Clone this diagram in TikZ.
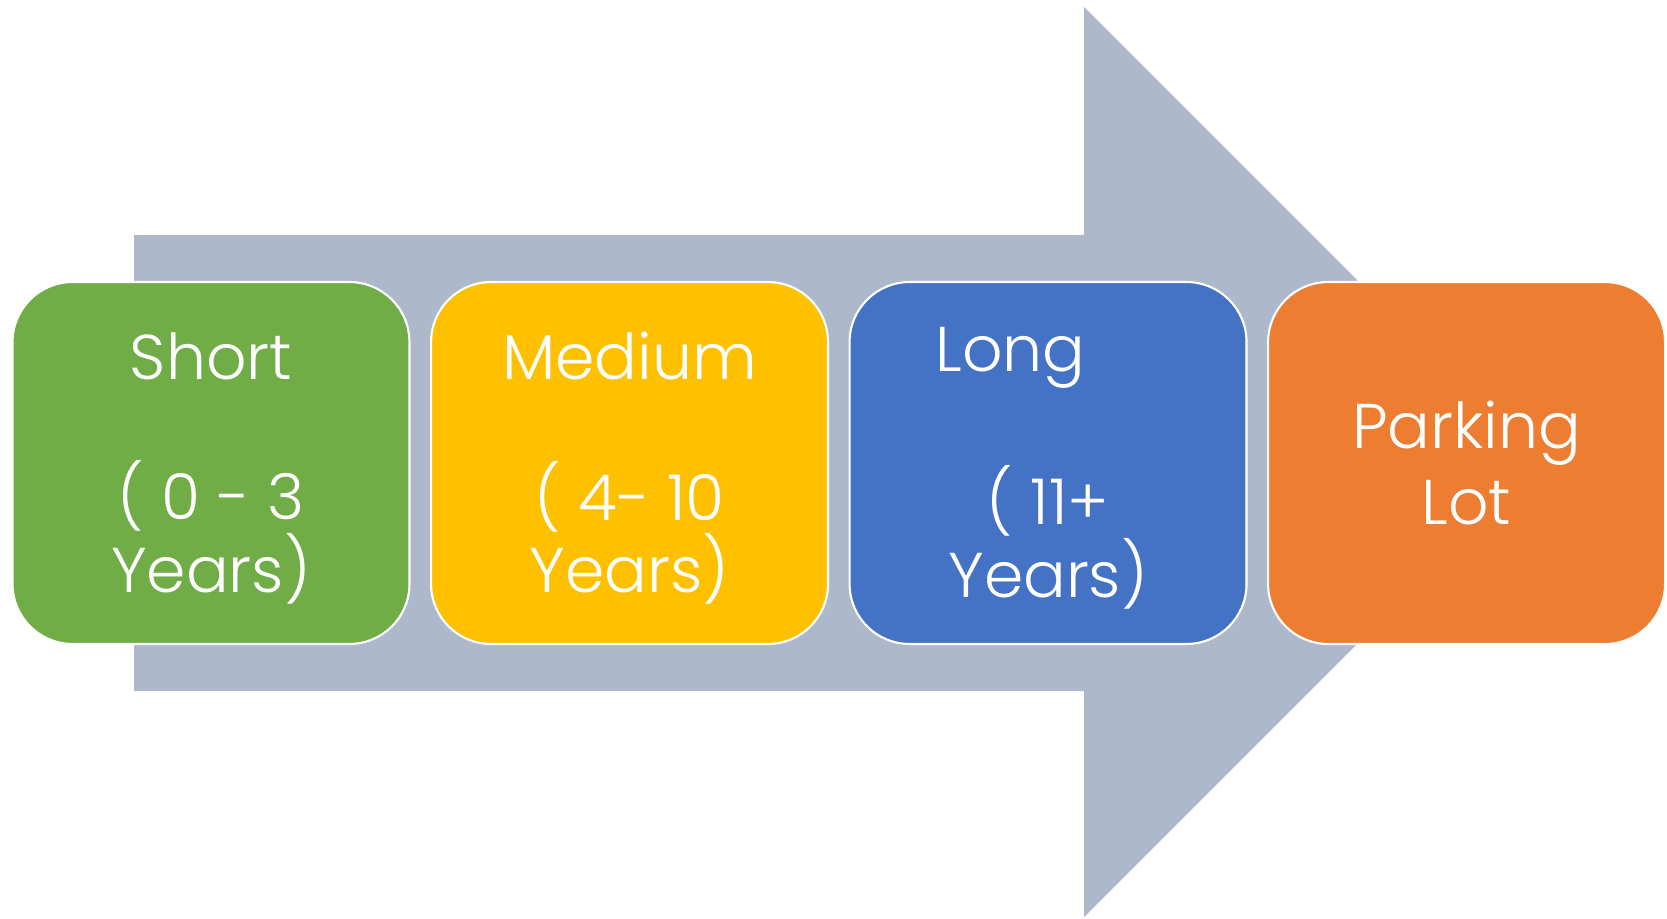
\documentclass[tikz,border=0pt]{standalone}
\usepackage{fontspec}
\setmainfont{Poppins}[UprightFont=* Light]
\usepackage{tikz}
\usetikzlibrary{positioning}
\definecolor{stepgreen}{RGB}{112, 173, 71}
\definecolor{stepyellow}{RGB}{255, 192, 0}
\definecolor{stepblue}{RGB}{68, 114, 196}
\definecolor{steporange}{RGB}{237, 125, 49}
\definecolor{arrowgray}{RGB}{173, 185, 202}
\tikzset{
  termbox/.style={draw=white, line width=1.2pt, rounded corners=1.2cm,
    minimum width=7.94cm, minimum height=7.24cm, inner sep=0pt},
  termtext/.style={align=center, text=white, inner sep=0pt,
    font=\fontsize{36}{37}\selectfont}
}

\begin{document}
\begin{tikzpicture}[x=0.02cm, y=-0.02cm]
  \useasboundingbox (0,0) rectangle (1667,919);

  % Background arrow
  \fill[arrowgray] (134,235) -- (1084,235) -- (1084,7) -- (1539,462)
    -- (1084,917) -- (1084,691) -- (134,691) -- cycle;

  % Terms
  \node[termbox, fill=stepgreen] (short) at (211,463) {};
  \node[termbox, fill=stepyellow, right=0.39cm of short] (medium) {};
  \node[termbox, fill=stepblue, right=0.39cm of medium] (long) {};
  \node[termbox, fill=steporange, right=0.39cm of long] (parking) {};

  \node[termtext] (shortText) at ([yshift=-3pt]short.center) {
    Short\\[43pt]
    ( 0 - 3\\
    Years)
  };
  \node[termtext] (mediumText) at ([yshift=-3pt]medium.center) {
    Medium\\[43pt]
    ( 4- 10\\
    Years)
  };
  \node[termtext] (longText) at ([yshift=-3pt]long.center) {
    Long\hspace*{1.5cm}\\[43pt]
    ( 11+\\
    Years)
  };

  % Parking lot
  \node[termtext] (parkingText) at (parking.center) {
    Parking\\[6pt]
    Lot
  };
\end{tikzpicture}
\end{document}
